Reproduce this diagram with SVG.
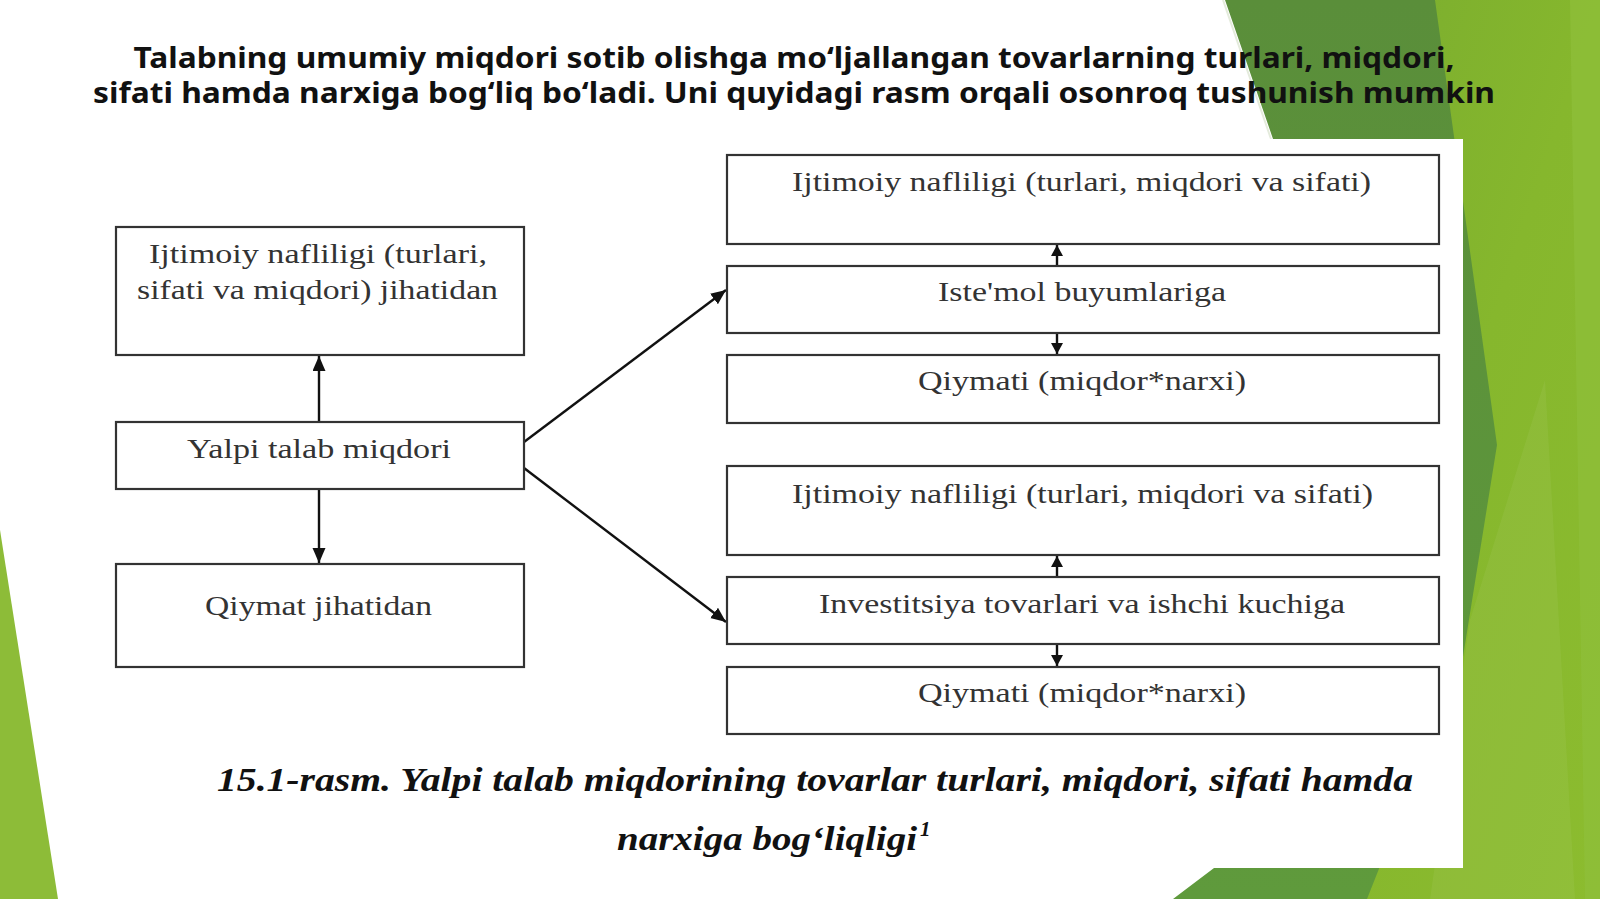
<svg xmlns="http://www.w3.org/2000/svg" width="1600" height="899" viewBox="0 0 1600 899">
  <defs>
    <linearGradient id="lightG" x1="0" y1="0" x2="1" y2="1">
      <stop offset="0" stop-color="#78ab2f"/>
      <stop offset="0.5" stop-color="#86b72d"/>
      <stop offset="1" stop-color="#8cbc2f"/>
    </linearGradient>
    <linearGradient id="darkG" x1="0" y1="0" x2="0" y2="1">
      <stop offset="0" stop-color="#5a8e3a"/>
      <stop offset="1" stop-color="#5f9a3c"/>
    </linearGradient>
    <marker id="ah" markerUnits="userSpaceOnUse" markerWidth="16" markerHeight="14" refX="15" refY="6.5" orient="auto">
      <path d="M0,0 L15,6.5 L0,13 z" fill="#111"/>
    </marker>
    <marker id="ahs" markerUnits="userSpaceOnUse" markerWidth="12" markerHeight="12" refX="11" refY="6" orient="auto">
      <path d="M0,0 L11,6 L0,12 z" fill="#111"/>
    </marker>
    <style>
      .box { fill: #ffffff; stroke: #333333; stroke-width: 2.2; }
      .bt { font-family: "Liberation Serif", "Times New Roman", serif; font-size: 28px; fill: #333333; }
      .title { font-family: "Noto Sans", "Open Sans", sans-serif; font-weight: bold; font-size: 28px; fill: #111111; }
      .cap { font-family: "Liberation Serif", "Times New Roman", serif; font-weight: bold; font-style: italic; font-size: 34px; fill: #111111; }
      .sup { font-family: "Liberation Serif", "Times New Roman", serif; font-weight: bold; font-style: italic; font-size: 21px; fill: #111111; }
      .conn { stroke: #111111; stroke-width: 2.4; fill: none; }
    </style>
  </defs>

  <!-- background -->
  <rect x="0" y="0" width="1600" height="899" fill="#ffffff"/>
  <g id="decor">
    <polygon points="0,530 58,899 0,899" fill="#8dbc38"/>
    <rect x="1300" y="0" width="300" height="899" fill="url(#lightG)"/>
    <polygon points="1570,0 1600,0 1600,899 1585,899" fill="#8fbf3a" opacity="0.7"/>
    <polygon points="1470,620 1545,380 1575,899 1430,899" fill="#ffffff" opacity="0.05"/>
    <polygon points="1225,0 1435,0 1497,445 1463,657 1367,899 1173,899 1214,868 1273,139" fill="url(#darkG)"/>
    <line x1="1223" y1="0" x2="1271" y2="139" stroke="#e4ebdc" stroke-width="2"/>
    <rect x="90" y="139" width="1373" height="729" fill="#ffffff"/>
  </g>

  <!-- title -->
  <g id="title">
    <text class="title" x="794" y="68" text-anchor="middle" textLength="1321" lengthAdjust="spacingAndGlyphs">Talabning umumiy miqdori sotib olishga mo‘ljallangan tovarlarning turlari, miqdori,</text>
    <text class="title" x="794" y="103" text-anchor="middle" textLength="1402" lengthAdjust="spacingAndGlyphs">sifati hamda narxiga bog‘liq bo‘ladi. Uni quyidagi rasm orqali osonroq tushunish mumkin</text>
  </g>

  <!-- connectors -->
  <g id="connectors">
    <line class="conn" x1="319" y1="422" x2="319" y2="356" marker-end="url(#ah)"/>
    <line class="conn" x1="319" y1="489" x2="319" y2="563" marker-end="url(#ah)"/>
    <line class="conn" x1="524" y1="442" x2="726" y2="290" marker-end="url(#ah)"/>
    <line class="conn" x1="524" y1="468" x2="726" y2="622" marker-end="url(#ah)"/>
    <line class="conn" x1="1057" y1="266" x2="1057" y2="245" marker-end="url(#ahs)"/>
    <line class="conn" x1="1057" y1="333" x2="1057" y2="354" marker-end="url(#ahs)"/>
    <line class="conn" x1="1057" y1="577" x2="1057" y2="556" marker-end="url(#ahs)"/>
    <line class="conn" x1="1057" y1="644" x2="1057" y2="666" marker-end="url(#ahs)"/>
  </g>

  <!-- left nodes -->
  <g id="node-ijtimoiy-left">
    <rect class="box" x="116" y="227" width="408" height="128"/>
    <text class="bt" x="149" y="263" textLength="338" lengthAdjust="spacingAndGlyphs">Ijtimoiy nafliligi (turlari,</text>
    <text class="bt" x="137" y="299" textLength="361" lengthAdjust="spacingAndGlyphs">sifati va miqdori) jihatidan</text>
  </g>
  <g id="node-yalpi">
    <rect class="box" x="116" y="422" width="408" height="67"/>
    <text class="bt" x="187" y="458" textLength="264" lengthAdjust="spacingAndGlyphs">Yalpi talab miqdori</text>
  </g>
  <g id="node-qiymat-left">
    <rect class="box" x="116" y="564" width="408" height="103"/>
    <text class="bt" x="205" y="615" textLength="227" lengthAdjust="spacingAndGlyphs">Qiymat jihatidan</text>
  </g>

  <!-- right nodes -->
  <g id="node-ijtimoiy-1">
    <rect class="box" x="727" y="155" width="712" height="89"/>
    <text class="bt" x="792" y="191" textLength="579" lengthAdjust="spacingAndGlyphs">Ijtimoiy nafliligi (turlari, miqdori va sifati)</text>
  </g>
  <g id="node-istemol">
    <rect class="box" x="727" y="266" width="712" height="67"/>
    <text class="bt" x="938" y="301" textLength="288" lengthAdjust="spacingAndGlyphs">Iste'mol buyumlariga</text>
  </g>
  <g id="node-qiymati-1">
    <rect class="box" x="727" y="355" width="712" height="68"/>
    <text class="bt" x="918" y="390" textLength="328" lengthAdjust="spacingAndGlyphs">Qiymati (miqdor*narxi)</text>
  </g>
  <g id="node-ijtimoiy-2">
    <rect class="box" x="727" y="466" width="712" height="89"/>
    <text class="bt" x="792" y="503" textLength="581" lengthAdjust="spacingAndGlyphs">Ijtimoiy nafliligi (turlari, miqdori va sifati)</text>
  </g>
  <g id="node-investitsiya">
    <rect class="box" x="727" y="577" width="712" height="67"/>
    <text class="bt" x="819" y="613" textLength="526" lengthAdjust="spacingAndGlyphs">Investitsiya tovarlari va ishchi kuchiga</text>
  </g>
  <g id="node-qiymati-2">
    <rect class="box" x="727" y="667" width="712" height="67"/>
    <text class="bt" x="918" y="702" textLength="328" lengthAdjust="spacingAndGlyphs">Qiymati (miqdor*narxi)</text>
  </g>

  <!-- caption -->
  <g id="caption">
    <text class="cap" x="617" y="850" textLength="300" lengthAdjust="spacingAndGlyphs">narxiga bog‘liqligi</text>
    <text class="cap" x="217" y="791" textLength="1196" lengthAdjust="spacingAndGlyphs">15.1-rasm. Yalpi talab miqdorining tovarlar turlari, miqdori, sifati hamda</text>
    <text class="sup" x="920" y="836">1</text>
  </g>
</svg>
